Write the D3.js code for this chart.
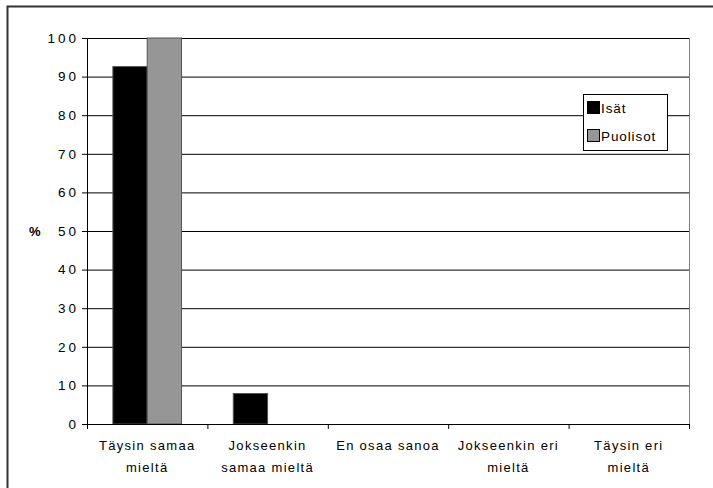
<!DOCTYPE html>
<html>
<head>
<meta charset="utf-8">
<script src="https://cdn.jsdelivr.net/npm/d3@7"></script>
<style>
  body { margin: 0; background: #fff; }
  svg text { font-family: "Liberation Sans", Arial, sans-serif; fill: #000; }
</style>
</head>
<body>
<div id="chart"></div>
<script>
// Data
const categories = [
    ['Täysin samaa', 'mieltä'],
    ['Jokseenkin', 'samaa mieltä'],
    ['En osaa sanoa'],
    ['Jokseenkin eri', 'mieltä'],
    ['Täysin eri', 'mieltä']
];
const seriesNames = ['Isät', 'Puolisot'];
const isat = [92.6, 7.9, 0, 0, 0];
const puolisot = [100, 0, 0, 0, 0];
const yTicks = [0, 10, 20, 30, 40, 50, 60, 70, 80, 90, 100];
const colors = ['#000000', '#969696'];

const W = 713, H = 488;
let margin = {top: 38, right: 24, bottom: 64, left: 87};
let width = W - margin.left - margin.right,
    height = H - margin.top - margin.bottom;

let svg = d3.select('#chart').append('svg')
    .attr('width', W).attr('height', H);

// marco exterior
svg.append('rect')
    .attr('x', 7.5).attr('y', 6.5)
    .attr('width', W + 20).attr('height', H + 20)
    .attr('fill', 'none').attr('stroke', '#333').attr('stroke-width', 2);

let chart = svg.append('g')
    .attr('transform', 'translate(' + margin.left + ',' + margin.top + ')');

let x = d3.scaleBand().domain(d3.range(categories.length)).range([0, width]);
let x1 = d3.scaleBand().domain(seriesNames).range([x.bandwidth() * 0.215, x.bandwidth() * 0.785]);
let y = d3.scaleLinear().domain([0, 100]).range([height, 0]);

// rejilla
chart.append('g')
    .call(d3.axisLeft(y).tickValues(yTicks).tickSize(-width).tickFormat(''))
    .call(g => g.select('.domain').remove())
    .call(g => g.selectAll('.tick line').attr('stroke', '#000'));

// borde derecho
chart.append('line')
    .attr('x1', width + 0.5).attr('x2', width + 0.5)
    .attr('y1', 0).attr('y2', height)
    .attr('stroke', '#808080');

// barras
let data = [isat, puolisot];
data.forEach(function(vals, s) {
    chart.append('g').selectAll('rect')
        .data(vals)
        .enter().append('rect')
        .filter(d => d > 0)
        .attr('x', (d, i) => x(i) + x1(seriesNames[s]))
        .attr('y', d => y(d))
        .attr('width', x1.bandwidth())
        .attr('height', d => y(0) - y(d))
        .attr('fill', colors[s])
        .attr('stroke', '#555')
        .attr('stroke-width', 1);
});

// eje Y
chart.append('g')
    .call(d3.axisLeft(y).tickValues(yTicks).tickSize(5).tickPadding(6))
    .call(g => g.selectAll('text').style('font-size', '13.5px').style('letter-spacing', '3px')
        .attr('dx', '3px'))
    .call(g => g.select('.domain').attr('d', 'M0.5,0V' + height).attr('stroke', '#000'));

// eje X
let xAxis = chart.append('g')
    .attr('transform', 'translate(0,' + height + ')');
xAxis.append('line')
    .attr('x1', 0).attr('x2', width)
    .attr('y1', 0.5).attr('y2', 0.5)
    .attr('stroke', '#000');
xAxis.selectAll('.tk')
    .data(d3.range(categories.length + 1))
    .enter().append('line')
    .attr('x1', d => d * x.step() + 0.5).attr('x2', d => d * x.step() + 0.5)
    .attr('y1', 0).attr('y2', 5)
    .attr('stroke', '#000');
xAxis.selectAll('.lbl')
    .data(categories)
    .enter().append('text')
    .attr('text-anchor', 'middle')
    .attr('font-size', '13px')
    .style('letter-spacing', '1.3px')
    .attr('x', (d, i) => x(i) + x.bandwidth() / 2)
    .each(function(d) {
        d.forEach((line, k) => {
            d3.select(this).append('tspan')
                .attr('x', d3.select(this).attr('x'))
                .attr('y', 26 + k * 22)
                .text(line);
        });
    });

// título eje Y
svg.append('text')
    .attr('x', 29).attr('y', 236)
    .attr('font-size', '13px').attr('font-weight', 'bold')
    .text('%');

// leyenda
let legend = svg.append('g').attr('transform', 'translate(583,94)');
legend.append('rect')
    .attr('x', 0.5).attr('y', 0.5).attr('width', 84).attr('height', 56)
    .attr('fill', '#fff').attr('stroke', '#000');
seriesNames.forEach(function(name, i) {
    legend.append('rect')
        .attr('x', 4.5).attr('y', 7.5 + i * 28)
        .attr('width', 12).attr('height', 12)
        .attr('fill', colors[i]).attr('stroke', '#000');
    legend.append('text')
        .attr('x', 18).attr('y', 19 + i * 28)
        .attr('font-size', '13.5px')
        .style('letter-spacing', '0.9px')
        .text(name);
});
</script>
</body>
</html>
